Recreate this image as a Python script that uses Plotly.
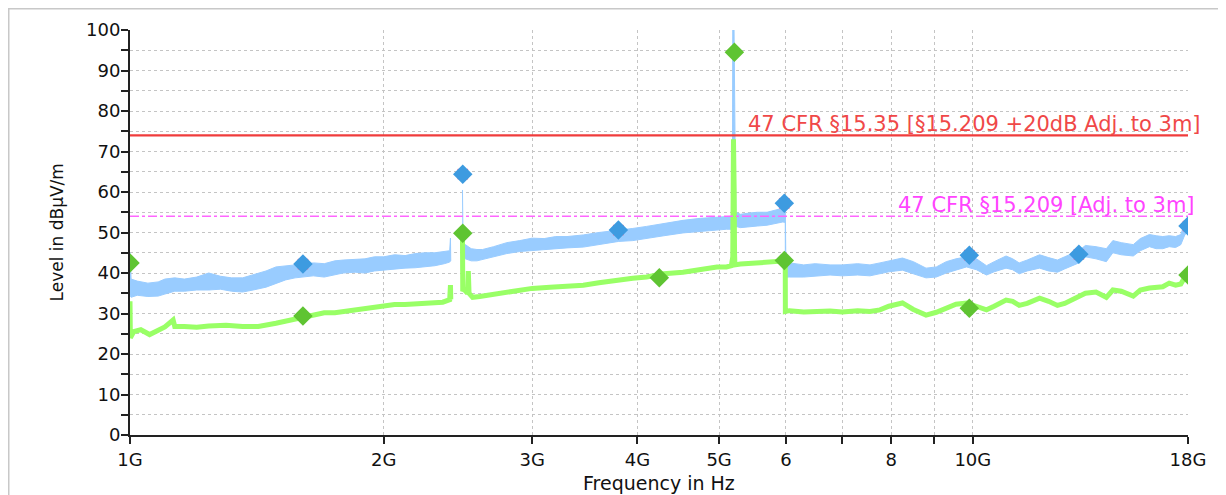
import plotly.graph_objects as go

# ---------------- data (frequencies in GHz, levels in dBuV/m) ----------------
# Peak trace (blue) drawn as a band between lower / upper envelope, 2 segments
peak_f_a = [1.000, 1.003, 1.02, 1.05, 1.08, 1.10, 1.13, 1.16, 1.20, 1.24, 1.28, 1.32, 1.36,
            1.40, 1.45, 1.49, 1.53, 1.57, 1.60, 1.65, 1.70, 1.75, 1.79, 1.85, 1.90, 1.95,
            2.00, 2.06, 2.12, 2.18, 2.24, 2.30, 2.36, 2.395, 2.400, 2.402]
peak_lo_a = [34.5, 34.0, 34.5, 34.2, 34.3, 34.8, 35.5, 35.5, 35.8, 35.8, 36.0, 35.5, 35.3,
             35.8, 36.5, 37.5, 38.3, 38.8, 39.0, 39.3, 39.0, 39.6, 40.0, 40.2, 40.0, 40.5,
             40.7, 41.0, 41.2, 41.3, 41.5, 41.8, 42.3, 42.7, 43.0, 43.0]
peak_hi_a = [45.0, 38.5, 38.0, 37.5, 37.8, 38.5, 38.8, 38.5, 39.0, 40.0, 39.2, 38.8, 38.8,
             39.5, 40.5, 41.5, 41.8, 42.0, 42.0, 42.5, 42.3, 43.0, 43.2, 43.3, 43.5, 44.0,
             44.0, 44.5, 44.3, 44.8, 45.0, 45.0, 45.2, 45.5, 48.6, 44.0]

peak_f_b = [2.480, 2.484, 2.50, 2.54, 2.58, 2.62, 2.70, 2.80, 2.90, 3.00, 3.10, 3.20, 3.30,
            3.45, 3.60, 3.80, 3.95, 4.10, 4.30, 4.53, 4.75, 4.97, 5.10, 5.17, 5.185, 5.19,
            5.206, 5.214, 5.224, 5.234, 5.30, 5.43, 5.55, 5.70, 5.85, 5.95, 5.99, 5.992,
            6.00, 6.06, 6.30, 6.50, 6.77, 7.00, 7.30, 7.55, 7.76, 7.95, 8.25, 8.50, 8.80,
            9.05, 9.30, 9.55, 9.83, 10.1, 10.38, 10.6, 10.95, 11.15, 11.35, 11.6, 12.0,
            12.3, 12.6, 12.85, 13.1, 13.36, 13.6, 14.0, 14.4, 14.66, 15.0, 15.5, 15.8,
            16.2, 16.5, 16.8, 17.1, 17.4, 17.65, 17.85, 18.0]
peak_lo_b = [44.5, 43.5, 43.5, 43.0, 43.0, 43.2, 44.0, 44.8, 45.3, 45.7, 45.8, 46.0, 46.2,
             46.4, 47.0, 47.8, 48.0, 48.5, 49.2, 49.9, 50.3, 50.6, 50.8, 50.8, 51.0, 52.0,
             62.0, 55.0, 52.0, 51.5, 51.2, 51.4, 51.6, 51.8, 52.3, 52.6, 52.5, 39.5,
             39.0, 39.0, 39.0, 39.3, 39.5, 39.3, 39.5, 39.3, 39.8, 40.3, 40.7, 39.8, 38.8,
             39.0, 40.0, 40.8, 41.5, 40.8, 39.5, 40.3, 41.2, 40.8, 39.8, 40.5, 41.2,
             40.5, 40.2, 41.0, 41.8, 42.5, 44.0, 43.5, 42.8, 45.0, 44.5, 44.2, 45.5,
             46.5, 46.0, 46.0, 46.5, 46.3, 47.0, 49.5, 50.0]
peak_hi_b = [60.5, 47.5, 47.0, 46.0, 45.8, 45.8, 46.5, 47.5, 48.0, 48.6, 48.5, 49.0, 49.0,
             49.4, 50.0, 50.5, 51.0, 51.5, 52.2, 53.0, 53.5, 53.8, 53.8, 54.0, 58.0, 104.0,
             104.0, 76.0, 70.0, 55.0, 54.5, 54.8, 55.0, 55.0, 55.5, 56.0, 55.5, 55.0,
             42.5, 42.5, 42.0, 42.3, 42.0, 42.0, 42.3, 42.0, 42.5, 43.0, 43.7, 42.8, 41.2,
             41.5, 42.8, 43.5, 44.0, 43.5, 41.8, 42.8, 44.2, 43.5, 42.5, 43.2, 44.5,
             43.8, 43.2, 44.0, 44.8, 45.5, 46.8, 46.5, 46.0, 48.0, 47.5, 47.0, 48.5,
             49.5, 49.2, 49.0, 49.2, 49.0, 49.5, 52.5, 52.5]

# Average trace (green), 2 segments
avg_f_a = [1.000, 1.001, 1.01, 1.03, 1.055, 1.08, 1.10, 1.125, 1.13, 1.16, 1.20, 1.24,
           1.30, 1.36, 1.42, 1.49, 1.55, 1.60, 1.65, 1.70, 1.75, 1.79, 1.85, 1.90, 1.95,
           2.00, 2.06, 2.12, 2.20, 2.28, 2.35, 2.395, 2.400, 2.402]
avg_lv_a = [33.0, 24.0, 25.5, 26.0, 24.8, 25.8, 26.7, 28.4, 26.8, 26.8, 26.6, 26.9,
            27.1, 26.8, 26.8, 27.6, 28.4, 29.2, 29.8, 30.2, 30.2, 30.5, 30.8, 31.3, 31.6,
            31.7, 32.2, 32.2, 32.5, 32.5, 32.8, 33.4, 37.0, 33.5]

avg_f_b = [2.480, 2.482, 2.49, 2.515, 2.52, 2.525, 2.55, 2.60, 2.66, 2.70, 2.80, 2.90,
           3.00, 3.15, 3.30, 3.45, 3.60, 3.75, 3.95, 4.10, 4.30, 4.53, 4.75, 4.97, 5.10,
           5.17, 5.19, 5.20, 5.21, 5.215, 5.22, 5.30, 5.45, 5.60, 5.80, 5.95, 5.99, 5.992,
           6.06, 6.30, 6.50, 6.77, 7.00, 7.30, 7.55, 7.76, 7.95, 8.25, 8.50, 8.80, 9.05,
           9.30, 9.55, 9.83, 10.1, 10.38, 10.6, 10.95, 11.15, 11.35, 11.6, 12.0, 12.3,
           12.6, 12.85, 13.1, 13.36, 13.6, 14.0, 14.4, 14.66, 15.0, 15.5, 15.8, 16.2,
           16.5, 16.8, 17.1, 17.4, 17.65, 17.85, 18.0]
avg_lv_b = [49.8, 35.5, 36.0, 35.0, 40.5, 35.0, 34.0, 34.2, 34.5, 35.0, 35.3, 35.8,
            36.2, 36.5, 36.7, 37.0, 37.6, 38.2, 38.7, 39.0, 39.8, 40.2, 40.8, 41.5, 41.5,
            41.8, 44.0, 73.0, 60.0, 45.0, 42.0, 42.2, 42.4, 42.5, 42.8, 43.2, 43.0, 30.5,
            30.7, 30.4, 30.6, 30.6, 30.4, 30.7, 30.5, 30.9, 31.8, 32.6, 31.0, 29.6, 30.3,
            31.3, 32.3, 32.6, 31.8, 30.9, 31.8, 33.3, 33.0, 32.0, 32.5, 33.8, 33.0,
            32.0, 32.5, 33.3, 34.0, 35.0, 35.3, 34.0, 35.8, 35.5, 34.3, 35.8, 36.3,
            36.6, 36.6, 37.5, 37.0, 37.3, 39.0, 39.5]

# Final measurement points (diamonds)
peak_pts_f = [1.604, 2.482, 3.797, 5.975, 9.904, 13.36, 18.0]
peak_pts_lv = [42.2, 64.4, 50.6, 57.2, 44.4, 44.6, 51.6]
avg_pts_f = [1.000, 1.604, 2.482, 4.246, 5.213, 5.975, 9.904, 18.0]
avg_pts_lv = [42.5, 29.4, 49.8, 38.8, 94.5, 43.1, 31.3, 39.5]

# Limit lines
limit_f = [1.0, 18.0]
limit_1535 = [74.0, 74.0]
limit_15209 = [54.0, 54.0]
limit_1535_name = "47 CFR §15.35 [§15.209 +20dB Adj. to 3m]"
limit_15209_name = "47 CFR §15.209 [Adj. to 3m]"

# Axis ticks
x_tick_ghz = [1, 2, 3, 4, 5, 6, 7, 8, 9, 10, 18]
x_tick_text = ["1G", "2G", "3G", "4G", "5G", "6", "", "8", "", "10G", "18G"]
y_range = [0, 100]

# ---------------- figure ----------------
G = 1e9
BLUE_TRACE = "#99CCFF"
GREEN_TRACE = "#99FF66"
FONT = "DejaVu Sans"

fig = go.Figure()


def band(f, lo, hi):
    xs = [v * G for v in f] + [v * G for v in f[::-1]]
    ys = list(hi) + list(lo[::-1])
    return go.Scatter(x=xs, y=ys, mode="lines", fill="toself", fillcolor=BLUE_TRACE,
                      line=dict(color=BLUE_TRACE, width=1), hoverinfo="skip")


fig.add_trace(band(peak_f_a, peak_lo_a, peak_hi_a))
fig.add_trace(band(peak_f_b, peak_lo_b, peak_hi_b))

for f, lv in ((avg_f_a, avg_lv_a), (avg_f_b, avg_lv_b)):
    fig.add_trace(go.Scatter(x=[v * G for v in f], y=lv, mode="lines",
                             line=dict(color=GREEN_TRACE, width=5)))

fig.add_trace(go.Scatter(x=[v * G for v in limit_f], y=limit_15209, mode="lines",
                         line=dict(color="#FF66FF", width=1.5, dash="dashdot")))
fig.add_trace(go.Scatter(x=[v * G for v in limit_f], y=limit_1535, mode="lines",
                         line=dict(color="#F03C3C", width=2.2)))

fig.add_trace(go.Scatter(x=[v * G for v in peak_pts_f], y=peak_pts_lv, mode="markers",
                         marker=dict(symbol="asterisk-open", size=12,
                                     line=dict(color="#F5A070", width=1.5))))
fig.add_trace(go.Scatter(x=[v * G for v in peak_pts_f], y=peak_pts_lv, mode="markers",
                         marker=dict(symbol="diamond", size=15, color="#3D9BE0",
                                     line=dict(width=0))))
fig.add_trace(go.Scatter(x=[v * G for v in avg_pts_f], y=avg_pts_lv, mode="markers",
                         marker=dict(symbol="diamond", size=15, color="#5FC432",
                                     line=dict(width=0))))

fig.add_annotation(x=1.0142, y=0.768, xref="paper", yref="paper", text=limit_1535_name,
                   showarrow=False, xanchor="right", yanchor="middle",
                   font=dict(family=FONT, size=21, color="#F04848"))
fig.add_annotation(x=1.0085, y=0.568, xref="paper", yref="paper", text=limit_15209_name,
                   showarrow=False, xanchor="right", yanchor="middle",
                   font=dict(family=FONT, size=21, color="#FF44FF"))

fig.add_annotation(x=-0.069, y=0.5, xref="paper", yref="paper", text="Level in dBµV/m",
                   showarrow=False, textangle=-90, xanchor="center", yanchor="middle",
                   font=dict(family=FONT, size=17, color="#111111"))
fig.add_annotation(x=0.5, y=-0.118, xref="paper", yref="paper", text="Frequency in Hz",
                   showarrow=False, xanchor="center", yanchor="middle",
                   font=dict(family=FONT, size=19, color="#111111"))

# outer frame (partly cropped in the reference)
frame = dict(color="#C8C8C8", width=1.5)
fig.add_shape(type="line", xref="paper", yref="paper", x0=-0.1153, x1=1.04,
              y0=1.0525, y1=1.0525, line=frame)
fig.add_shape(type="line", xref="paper", yref="paper", x0=-0.1146, x1=-0.1146,
              y0=1.0525, y1=-0.2, line=frame)

grid = dict(showgrid=True, gridcolor="#C4C4C4", gridwidth=1, griddash="dot")

fig.update_xaxes(type="log", range=[9, 9 + 1.2552725], tickmode="array",
                 tickvals=[v * G for v in x_tick_ghz], ticktext=x_tick_text,
                 ticks="outside", ticklen=7, tickwidth=1.5, tickcolor="#222222",
                 showline=True, linecolor="#222222", linewidth=2,
                 tickfont=dict(family=FONT, size=18, color="#111111"),
                 zeroline=False, **grid)
fig.update_yaxes(range=y_range, dtick=10, tick0=0,
                 ticks="outside", ticklen=7, tickwidth=1.5, tickcolor="#222222",
                 showline=True, linecolor="#222222", linewidth=2,
                 tickfont=dict(family=FONT, size=18, color="#111111"),
                 ticklabelstandoff=-3,
                 zeroline=False,
                 minor=dict(dtick=5, tick0=0, ticks="outside", ticklen=7, tickwidth=1.5,
                            tickcolor="#222222", showgrid=True, gridcolor="#C4C4C4",
                            griddash="dot", gridwidth=1),
                 **grid)

# page has an 8px body margin: shift everything up/left by 8px
fig.update_layout(width=1218, height=487, margin=dict(l=122, r=38, t=22, b=60),
                  plot_bgcolor="white", paper_bgcolor="white", showlegend=False,
                  font=dict(family=FONT))

fig.write_html("out.html")
